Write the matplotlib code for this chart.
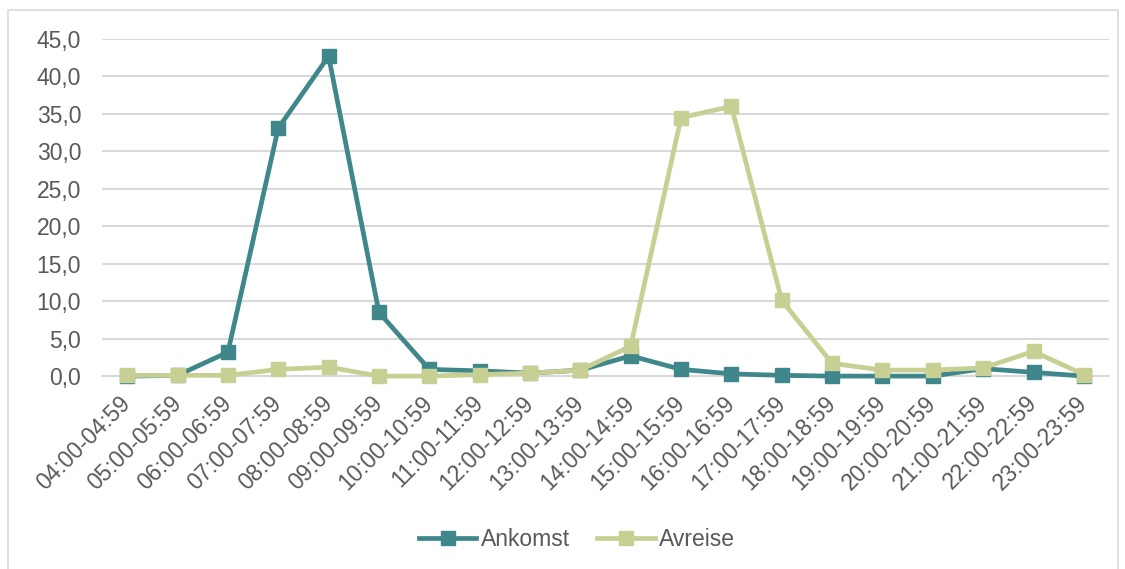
import matplotlib
matplotlib.use('Agg')
import matplotlib.pyplot as plt
from matplotlib.ticker import FuncFormatter
from matplotlib.patches import Rectangle

plt.rcParams['font.family'] = ['Liberation Sans', 'DejaVu Sans']

hours = ['04:00-04:59', '05:00-05:59', '06:00-06:59', '07:00-07:59', '08:00-08:59',
         '09:00-09:59', '10:00-10:59', '11:00-11:59', '12:00-12:59', '13:00-13:59',
         '14:00-14:59', '15:00-15:59', '16:00-16:59', '17:00-17:59', '18:00-18:59',
         '19:00-19:59', '20:00-20:59', '21:00-21:59', '22:00-22:59', '23:00-23:59']
ankomst = [0.0, 0.1, 3.2, 33.1, 42.7, 8.5, 0.9, 0.7, 0.4, 0.8,
           2.7, 0.9, 0.3, 0.1, 0.0, 0.0, 0.0, 1.0, 0.5, 0.0]
avreise = [0.1, 0.1, 0.1, 0.9, 1.2, 0.0, 0.0, 0.2, 0.4, 0.8,
           4.0, 34.5, 36.0, 10.1, 1.7, 0.8, 0.8, 1.1, 3.3, 0.2]

teal = '#3F878A'
green = '#C8CF92'
txt = '#595959'
fs = 16.5

fig = plt.figure(figsize=(11.25, 5.69), dpi=100)
ax = fig.add_axes([0.0907, 0.339, 0.8951, 0.5925])

x = list(range(len(hours)))
ax.plot(x, ankomst, color=teal, lw=3.4, marker='s', ms=10, label='Ankomst', clip_on=False, zorder=3)
ax.plot(x, avreise, color=green, lw=3.4, marker='s', ms=10, label='Avreise', clip_on=False, zorder=4)

ax.set_xlim(-0.5, len(hours) - 0.5)
ax.set_ylim(0, 45)
ax.set_yticks(range(0, 46, 5))
ax.yaxis.set_major_formatter(FuncFormatter(lambda v, p: f'{v:.1f}'.replace('.', ',')))
ax.set_xticks(x)
ax.set_xticklabels(hours, rotation=45, ha='right', va='center', rotation_mode='anchor')
ax.tick_params(axis='both', length=0, labelsize=fs, labelcolor=txt)
ax.tick_params(axis='x', pad=17)
ax.tick_params(axis='y', pad=15)
ax.grid(axis='y', color='#D9D9D9', lw=1.5)
ax.set_axisbelow(True)
for s in ['top', 'right', 'left']:
    ax.spines[s].set_visible(False)
ax.spines['bottom'].set_color('#D9D9D9')
ax.spines['bottom'].set_linewidth(1.5)

fig.legend(loc='center', bbox_to_anchor=(0.513, 0.052), ncol=2, frameon=False,
           fontsize=fs, labelcolor=txt, handlelength=2.5, columnspacing=1.2, handletextpad=0.2)

fig.patches.append(Rectangle((0.007, -0.02), 0.987, 1.003, transform=fig.transFigure,
                             fill=False, edgecolor='#D9D9D9', lw=1.2))

fig.savefig('out.png', dpi=100)
